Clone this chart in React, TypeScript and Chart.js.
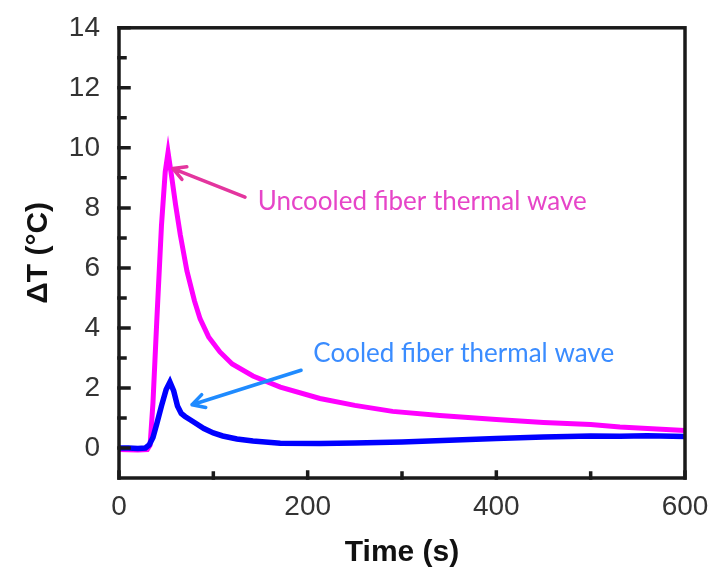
import React, { useEffect, useRef } from "react";
import { Chart, registerables } from "chart.js";

Chart.register(...registerables);

// ---- data ----
const tUncooled = [0, 10, 20, 30, 33, 36, 40, 45, 49, 52, 56, 60, 65, 72, 80, 86, 95, 107, 120, 142, 171, 213, 250, 290, 340, 400, 450, 500, 531, 570, 600];
const vUncooled = [-0.05, -0.06, -0.07, -0.05, 0.1, 1.5, 4.2, 7.4, 9.2, 9.85, 9.0, 8.1, 7.1, 5.9, 4.9, 4.3, 3.7, 3.2, 2.8, 2.4, 2.03, 1.65, 1.42, 1.22, 1.08, 0.95, 0.85, 0.78, 0.7, 0.63, 0.58];

const tCooled = [0, 10, 20, 28, 32, 36, 40, 45, 50, 54, 58, 62, 66, 70, 75, 80, 90, 100, 110, 125, 142, 171, 213, 250, 300, 350, 400, 450, 500, 531, 560, 600];
const vCooled = [0.0, 0.0, -0.02, 0.0, 0.1, 0.35, 0.8, 1.4, 1.95, 2.2, 1.9, 1.4, 1.15, 1.05, 0.95, 0.85, 0.65, 0.5, 0.4, 0.3, 0.23, 0.16, 0.15, 0.17, 0.2, 0.26, 0.32, 0.37, 0.4, 0.39, 0.41, 0.38];

const xTicks = [0, 200, 400, 600];
const xMinorTicks = [100, 300, 500];
const yTicks = [0, 2, 4, 6, 8, 10, 12, 14];
const yMinorTicks = [1, 3, 5, 7, 9, 11, 13];

const xTitle = "Time (s)";
const yTitle = "\u0394T (\u00B0C)";

const uncooledLabel = "Uncooled fiber thermal wave";
const cooledLabel = "Cooled fiber thermal wave";
// annotation anchors in data units: [t, value]
const uncooledTextAt = [147, 8.2];
const uncooledArrow = [[133.6, 8.36], [57.2, 9.31]];
const cooledTextAt = [206, 3.15];
const cooledArrow = [[193, 2.59], [77.4, 1.44]];

function drawArrow(ctx: CanvasRenderingContext2D, x1: number, y1: number, x2: number, y2: number, color: string) {
  const ang = Math.atan2(y2 - y1, x2 - x1);
  const head = 14;
  ctx.save();
  ctx.strokeStyle = color;
  ctx.lineWidth = 3.5;
  ctx.lineCap = "round";
  ctx.lineJoin = "round";
  ctx.beginPath();
  ctx.moveTo(x1, y1);
  ctx.lineTo(x2, y2);
  ctx.moveTo(x2 + head * Math.cos(ang + Math.PI - 0.5), y2 + head * Math.sin(ang + Math.PI - 0.5));
  ctx.lineTo(x2, y2);
  ctx.lineTo(x2 + head * Math.cos(ang + Math.PI + 0.5), y2 + head * Math.sin(ang + Math.PI + 0.5));
  ctx.stroke();
  ctx.restore();
}

const framePlugin = {
  id: "frameAndNotes",
  afterDraw(chart: any) {
    const { ctx, chartArea: a, scales } = chart;
    const xs = scales.x;
    const ys = scales.y;
    ctx.save();
    ctx.strokeStyle = "#1a1a1a";
    ctx.lineWidth = 3.5;
    ctx.lineCap = "square";
    // inward ticks
    ctx.beginPath();
    yTicks.forEach((v) => {
      const p = ys.getPixelForValue(v);
      ctx.moveTo(a.left, p);
      ctx.lineTo(a.left + 10, p);
    });
    yMinorTicks.forEach((v) => {
      const p = ys.getPixelForValue(v);
      ctx.moveTo(a.left, p);
      ctx.lineTo(a.left + 6, p);
    });
    xTicks.forEach((v) => {
      const p = xs.getPixelForValue(v);
      ctx.moveTo(p, a.bottom);
      ctx.lineTo(p, a.bottom - 6);
    });
    xMinorTicks.forEach((v) => {
      const p = xs.getPixelForValue(v);
      ctx.moveTo(p, a.bottom);
      ctx.lineTo(p, a.bottom - 5);
    });
    ctx.stroke();
    ctx.strokeRect(a.left, a.top, a.right - a.left, a.bottom - a.top);
    ctx.restore();

    // annotations
    ctx.save();
    ctx.font = "26px Lato, 'Noto Sans', sans-serif";
    ctx.textBaseline = "middle";
    ctx.textAlign = "left";
    ctx.fillStyle = "#E645C8";
    ctx.fillText(uncooledLabel, xs.getPixelForValue(uncooledTextAt[0]), ys.getPixelForValue(uncooledTextAt[1]));
    ctx.fillStyle = "#3A8CFF";
    ctx.fillText(cooledLabel, xs.getPixelForValue(cooledTextAt[0]), ys.getPixelForValue(cooledTextAt[1]));
    ctx.restore();
    drawArrow(
      ctx,
      xs.getPixelForValue(uncooledArrow[0][0]), ys.getPixelForValue(uncooledArrow[0][1]),
      xs.getPixelForValue(uncooledArrow[1][0]), ys.getPixelForValue(uncooledArrow[1][1]),
      "#E3359E"
    );
    drawArrow(
      ctx,
      xs.getPixelForValue(cooledArrow[0][0]), ys.getPixelForValue(cooledArrow[0][1]),
      xs.getPixelForValue(cooledArrow[1][0]), ys.getPixelForValue(cooledArrow[1][1]),
      "#1F8BFF"
    );
  },
};

export default function App() {
  const ref = useRef<HTMLCanvasElement | null>(null);
  useEffect(() => {
    document.body.style.margin = "0";
    const canvas = ref.current;
    if (!canvas) return;
    const tickFont = { family: "'Liberation Sans', Arial, sans-serif", size: 28 };
    const chart = new Chart(canvas, {
      type: "line",
      data: {
        datasets: [
          {
            label: "Cooled",
            data: tCooled.map((t, i) => ({ x: t, y: vCooled[i] })),
            borderColor: "#0000FF",
            borderWidth: 5.5,
            pointRadius: 0,
            tension: 0,
            fill: false,
          },
          {
            label: "Uncooled",
            data: tUncooled.map((t, i) => ({ x: t, y: vUncooled[i] })),
            borderColor: "#FF00FF",
            borderWidth: 5,
            pointRadius: 0,
            tension: 0,
            fill: false,
          },
        ],
      },
      options: {
        animation: false,
        responsive: false,
        maintainAspectRatio: false,
        layout: { padding: { top: 23, right: 36, left: 0, bottom: 0 } },
        plugins: { legend: { display: false }, tooltip: { enabled: false } },
        scales: {
          x: {
            type: "linear",
            min: 0,
            max: 600,
            afterBuildTicks: (s: any) => { s.ticks = xTicks.map((v) => ({ value: v })); },
            afterFit: (s: any) => { s.height = 93; },
            grid: { display: false },
            border: { display: false },
            ticks: { font: tickFont, color: "#333333", padding: 4, maxRotation: 0 },
            title: {
              display: true,
              text: xTitle,
              font: { family: "'Liberation Sans', Arial, sans-serif", size: 30, weight: "bold" },
              color: "#111111",
              padding: { top: 0, bottom: 0 },
            },
          },
          y: {
            type: "linear",
            min: -1,
            max: 14,
            afterBuildTicks: (s: any) => { s.ticks = yTicks.map((v) => ({ value: v })); },
            afterFit: (s: any) => { s.width = 119; },
            grid: { display: false },
            border: { display: false },
            ticks: { font: tickFont, color: "#333333", padding: 11 },
            title: {
              display: true,
              text: yTitle,
              font: { family: "'Liberation Sans', Arial, sans-serif", size: 30, weight: "bold" },
              color: "#111111",
              padding: { top: 21, bottom: 0 },
            },
          },
        },
      },
      plugins: [framePlugin],
    });
    return () => chart.destroy();
  }, []);
  return (
    <div style={{ position: "absolute", left: 0, top: 0, width: 721, height: 571, background: "#fff" }}>
      <canvas ref={ref} width={721} height={571} style={{ width: 721, height: 571 }} />
    </div>
  );
}
